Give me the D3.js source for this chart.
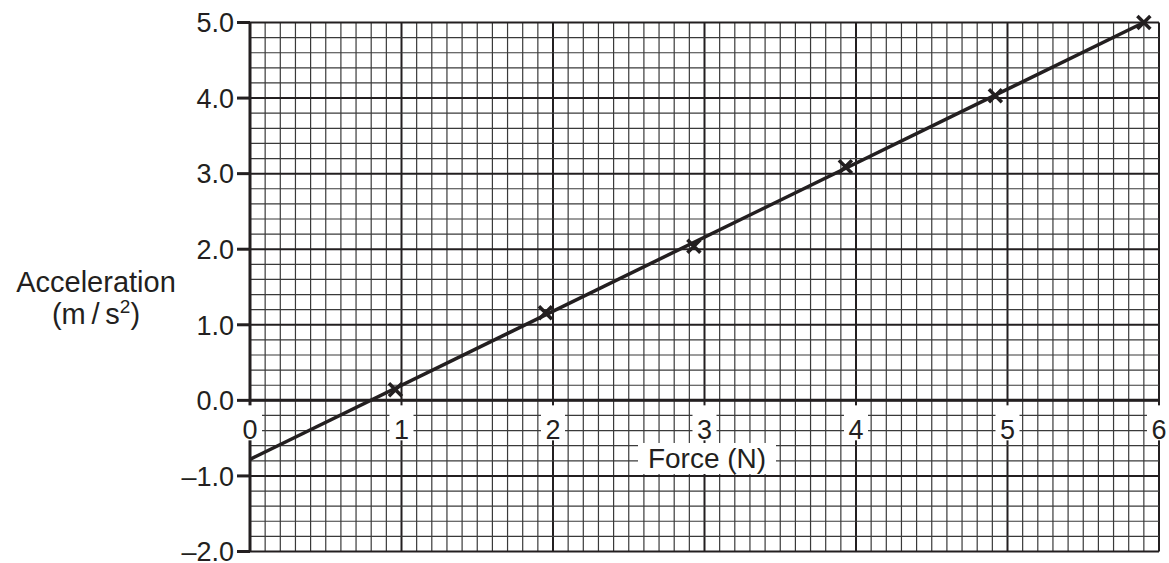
<!DOCTYPE html>
<html>
<head>
<meta charset="utf-8">
<script src="https://cdn.jsdelivr.net/npm/d3@7"></script>
<style>
  body { margin: 0; background: #fff; }
  text { font-family: "Liberation Sans", Arial, sans-serif; fill: #231f20; }
</style>
</head>
<body>
<div id="viz"></div>
<script>
// measured points (force in N, acceleration in m/s^2)
const force = [0.96, 1.95, 2.93, 3.93, 4.92, 5.9];
const accel = [0.14, 1.16, 2.04, 3.09, 4.03, 5.0];

// best fit line end points
const fitForce = [0, 5.92];
const fitAccel = [-0.78, 5.02];

const xTicks = [0, 1, 2, 3, 4, 5, 6];
const yTicks = [-2, -1, 0, 1, 2, 3, 4, 5];

const width = 1169, height = 563;

const svg = d3.select('#viz').append('svg')
    .attr('width', width)
    .attr('height', height);

const x = d3.scaleLinear().domain([0, 6]).range([250, 1159]);
const y = d3.scaleLinear().domain([-2, 5]).range([551.5, 22.5]);

const ink = '#231f20';
const isWhole = d => Math.abs(d - Math.round(d)) < 1e-6;

// graph paper: minor lines every 0.1 N and 0.2 m/s^2
const grid = svg.append('g');
const xMinor = d3.range(0, 61).map(i => i / 10);
const yMinor = d3.range(-10, 26).map(i => i / 5);

grid.selectAll('line.vx')
    .data(xMinor)
    .join('line')
    .attr('x1', d => x(d)).attr('x2', d => x(d))
    .attr('y1', y(-2)).attr('y2', y(5))
    .attr('stroke', d => isWhole(d) ? ink : '#3a3a3a')
    .attr('stroke-width', d => isWhole(d) ? 2 : 1.2);

grid.selectAll('line.hy')
    .data(yMinor)
    .join('line')
    .attr('x1', x(0)).attr('x2', x(6))
    .attr('y1', d => y(d)).attr('y2', d => y(d))
    .attr('stroke', d => isWhole(d) ? ink : '#3a3a3a')
    .attr('stroke-width', d => isWhole(d) ? 2 : 1.2);

// axes
svg.append('line')
    .attr('x1', x(0)).attr('x2', x(6))
    .attr('y1', y(0)).attr('y2', y(0))
    .attr('stroke', ink).attr('stroke-width', 3);

svg.append('line')
    .attr('x1', x(0)).attr('x2', x(0))
    .attr('y1', y(-2)).attr('y2', y(5))
    .attr('stroke', ink).attr('stroke-width', 3);

// y ticks and labels
const yAxis = svg.append('g');
yAxis.selectAll('line')
    .data(yTicks)
    .join('line')
    .attr('x1', x(0) - 13).attr('x2', x(0))
    .attr('y1', d => y(d)).attr('y2', d => y(d))
    .attr('stroke', ink).attr('stroke-width', 3);

yAxis.selectAll('text')
    .data(yTicks)
    .join('text')
    .attr('x', x(0) - 16)
    .attr('y', d => y(d))
    .attr('dy', '0.36em')
    .attr('text-anchor', 'end')
    .style('font-size', '27px')
    .text(d => d3.format('.1f')(d).replace('−', '–').replace('-', '–'));

// x tick labels sit in white boxes over the grid
const xLab = svg.append('g');
xLab.selectAll('rect')
    .data(xTicks)
    .join('rect')
    .attr('x', d => x(d) - 12)
    .attr('y', y(0) + 5)
    .attr('width', 24)
    .attr('height', 35)
    .attr('fill', '#fff');

xLab.selectAll('text')
    .data(xTicks)
    .join('text')
    .attr('x', d => x(d))
    .attr('y', y(0) + 39)
    .attr('text-anchor', 'middle')
    .style('font-size', '27px')
    .text(d => d);

// x title
const xt = svg.append('g');
xt.append('rect')
    .attr('x', 638).attr('y', 443)
    .attr('width', 138).attr('height', 31)
    .attr('fill', '#fff');
xt.append('text')
    .attr('x', 707).attr('y', 468)
    .attr('text-anchor', 'middle')
    .style('font-size', '28px')
    .text('Force (N)');

// y title
const yt = svg.append('text')
    .attr('text-anchor', 'middle')
    .style('font-size', '29px');
yt.append('tspan').attr('x', 96).attr('y', 292).text('Acceleration');
const t2 = yt.append('tspan').attr('x', 96).attr('y', 324);
t2.text('(m\u2009/\u2009s');
t2.append('tspan').attr('dy', -11).style('font-size', '19px').text('2');
t2.append('tspan').attr('dy', 11).text(')');

// best fit line
svg.append('path')
    .datum(fitForce.map((f, i) => [f, fitAccel[i]]))
    .attr('d', d3.line().x(d => x(d[0])).y(d => y(d[1])))
    .attr('fill', 'none')
    .attr('stroke', ink)
    .attr('stroke-width', 3.5);

// crosses
const s = 6.5;
svg.selectAll('path.pt')
    .data(force.map((f, i) => [f, accel[i]]))
    .join('path')
    .attr('class', 'pt')
    .attr('d', d => {
        const px = x(d[0]), py = y(d[1]);
        return `M${px - s},${py - s}L${px + s},${py + s}M${px - s},${py + s}L${px + s},${py - s}`;
    })
    .attr('stroke', ink)
    .attr('stroke-width', 3.5);
</script>
</body>
</html>
